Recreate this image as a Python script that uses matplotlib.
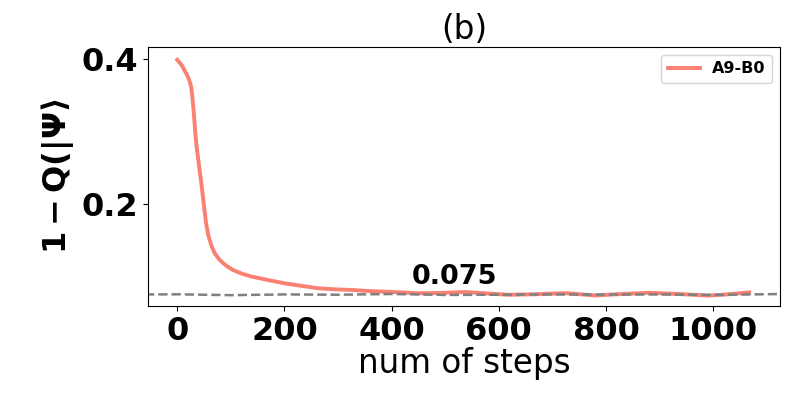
import numpy as np
import matplotlib.pyplot as plt

# curve
steps = [0, 8, 17, 22, 26, 28, 30.5, 33, 35.5, 38.5, 41.7, 45, 48, 51, 54, 58, 63.6, 70, 79, 88, 95, 104,
         120, 138, 170, 200, 232, 263, 295, 325, 355, 387, 420, 450, 490, 537, 580, 618, 670, 724,
         780, 830, 880, 935, 992, 1030, 1067]
loss = [0.399, 0.392, 0.380, 0.372, 0.362, 0.350, 0.330, 0.306, 0.284, 0.266, 0.247, 0.229, 0.210,
        0.191, 0.173, 0.157, 0.143, 0.132, 0.123, 0.117, 0.113, 0.109, 0.104, 0.100, 0.095, 0.0906, 0.087,
        0.0837, 0.0822, 0.0814, 0.080, 0.079, 0.078, 0.0768, 0.0772, 0.0785, 0.0765, 0.0747, 0.0755,
        0.077, 0.0738, 0.0758, 0.0775, 0.0758, 0.0736, 0.0755, 0.078]

ref_x = [-60, 0, 100, 200, 300, 400, 500, 600, 700, 800, 900, 1000, 1130]
ref_y = [0.0752, 0.0754, 0.0742, 0.0752, 0.0748, 0.0758, 0.0745, 0.0748, 0.0752, 0.0750, 0.0752, 0.0745, 0.0758]

fig, ax = plt.subplots(figsize=(7.97, 3.99), dpi=100)
ax.plot(steps, loss, color='salmon', lw=2.8, label='A9-B0')
ax.plot(ref_x, ref_y, color='gray', lw=1.8, ls='--')
ax.text(438, 0.0895, '0.075', fontsize=19.5, fontweight='bold')

ax.set_xlim(-54, 1125)
ax.set_ylim(0.0592, 0.4165)
ax.set_yticks([0.2, 0.4])
ax.set_xticks([0, 200, 400, 600, 800, 1000])
for lab in ax.get_xticklabels() + ax.get_yticklabels():
    lab.set_fontsize(23)
    lab.set_fontweight('bold')

ax.set_xlabel('num of steps', fontsize=23.5, labelpad=0)
ax.set_ylabel(r'$\mathbf{1-Q(|\Psi\rangle}$', fontsize=23)
ax.set_title('(b)', fontsize=23.5)
ax.legend(loc='upper right', prop={'weight': 'bold', 'size': 11.5})

plt.subplots_adjust(left=0.186, right=0.979, top=0.882, bottom=0.233)
plt.savefig('out.png', dpi=100)
